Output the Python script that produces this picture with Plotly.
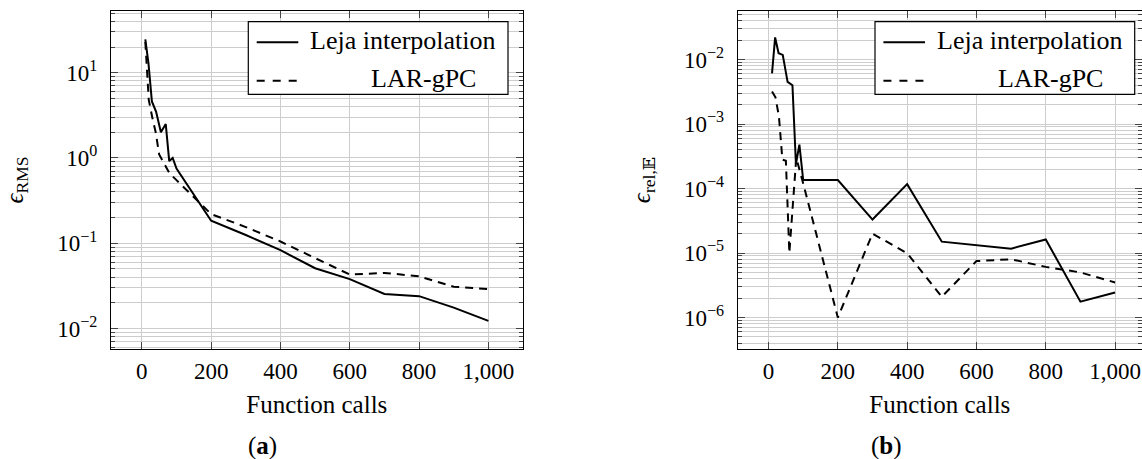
import plotly.graph_objects as go

# ---------------- data ----------------
leja_x = [10, 19, 29, 41, 55, 69, 79, 89, 100, 200, 300, 400, 500, 600, 700, 800, 900, 1000]
lar_x = [10, 20, 30, 40, 50, 60, 80, 100, 200, 300, 400, 500, 600, 700, 800, 900, 1000]

# (a) RMS error
leja_rms = [24.5, 13.0, 4.6, 3.5, 2.0, 2.5, 0.92, 1.0, 0.75, 0.184, 0.125, 0.083, 0.051, 0.038,
            0.0255, 0.024, 0.0176, 0.0123]
lar_rms = [23.0, 4.8, 3.0, 2.0, 1.1, 0.92, 0.66, 0.55, 0.22, 0.155, 0.105, 0.067, 0.043, 0.045,
           0.041, 0.031, 0.029]

# (b) relative error of the expectation
leja_rel = [6.1e-3, 2.2e-2, 1.25e-2, 1.18e-2, 4.5e-3, 4.0e-3, 2.4e-4, 4.8e-4, 1.35e-4, 1.35e-4,
            3.3e-5, 1.17e-4, 1.5e-5, 1.33e-5, 1.17e-5, 1.62e-5, 1.76e-6, 2.45e-6]
lar_rel = [3.2e-3, 2.6e-3, 1.3e-3, 2.8e-4, 2.7e-4, 1.0e-5, 3.0e-4, 1.2e-4, 1.0e-6, 2.0e-5,
           9.9e-6, 2.1e-6, 7.5e-6, 8.0e-6, 6.1e-6, 5.0e-6, 3.5e-6]

x_tickvals = [0, 200, 400, 600, 800, 1000]
x_ticktext = ["0", "200", "400", "600", "800", "1,000"]
a_yticks = [1e-2, 1e-1, 1e0, 1e1]
a_yticktext = ["10<sup>−2</sup>", "10<sup>−1</sup>", "10<sup>0</sup>", "10<sup>1</sup>"]
b_yticks = [1e-6, 1e-5, 1e-4, 1e-3, 1e-2]
b_yticktext = ["10<sup>−6</sup>", "10<sup>−5</sup>", "10<sup>−4</sup>", "10<sup>−3</sup>", "10<sup>−2</sup>"]

names = ["Leja interpolation", "LAR-gPC"]

# ---------------- layout helpers ----------------
W, H = 1142, 459
FONT = "Liberation Serif"
GRID = "#cdcdcd"


def px(x):
    return x / W


def py(y):
    return 1 - y / H


def minors(lo, hi):
    out = []
    for e in range(lo, hi + 1):
        for k in range(2, 10):
            out.append(k * 10 ** e)
    return out


fig = go.Figure()

line_styles = [dict(color="black", width=2), dict(color="black", width=2, dash="8px,6px")]

fig.add_trace(go.Scatter(x=leja_x, y=leja_rms, mode="lines", name=names[0], line=line_styles[0],
                         xaxis="x", yaxis="y", showlegend=False))
fig.add_trace(go.Scatter(x=lar_x, y=lar_rms, mode="lines", name=names[1], line=line_styles[1],
                         xaxis="x", yaxis="y", showlegend=False))
fig.add_trace(go.Scatter(x=leja_x, y=leja_rel, mode="lines", name=names[0], line=line_styles[0],
                         xaxis="x2", yaxis="y2", showlegend=False))
fig.add_trace(go.Scatter(x=lar_x, y=lar_rel, mode="lines", name=names[1], line=line_styles[1],
                         xaxis="x2", yaxis="y2", showlegend=False))

tickfont = dict(family=FONT, size=23, color="black")
titlefont = dict(family=FONT, size=25, color="black")

common_x = dict(
    tickvals=x_tickvals, ticktext=x_ticktext, tickfont=tickfont,
    showgrid=True, gridcolor=GRID, gridwidth=1, zeroline=False,
    showline=True, linecolor="black", linewidth=1.2, mirror="allticks",
    ticks="inside", ticklen=7, tickcolor="#444", tickwidth=1,
    ticklabelstandoff=1,
    title=dict(text="Function calls", font=titlefont, standoff=12),
)

common_y = dict(
    type="log", tickfont=tickfont,
    showgrid=True, gridcolor=GRID, gridwidth=1, zeroline=False,
    showline=True, linecolor="black", linewidth=1.2,
    ticks="inside", ticklen=7, tickcolor="#444", tickwidth=1,
    ticklabelstandoff=8,
)

dom_y = [py(349), py(11)]

fig.update_layout(
    width=W, height=H,
    margin=dict(l=0, r=0, t=0, b=0),
    paper_bgcolor="white", plot_bgcolor="white",
    font=dict(family=FONT, color="black"),
    xaxis=dict(domain=[px(111), px(522.7)], range=[-89, 1099], anchor="y", **common_x),
    yaxis=dict(domain=dom_y, range=[-2.239, 1.723], anchor="x", mirror="allticks",
               tickvals=a_yticks, ticktext=a_yticktext,
               minor=dict(tickvals=minors(-3, 1), showgrid=True, gridcolor=GRID, ticks="inside",
                          ticklen=4, tickcolor="#444"),
               title=dict(text="<i>ϵ</i><sub>RMS</sub>", font=titlefont, standoff=26),
               **common_y),
    xaxis2=dict(domain=[px(737.7), 1.0], range=[-89, -89 + (W - 737.7) / (411.7 / 1188)],
                anchor="y2", **common_x),
    yaxis2=dict(domain=dom_y, range=[-6.488, -1.248], anchor="x2", mirror="allticks",
                tickvals=b_yticks, ticktext=b_yticktext,
                minor=dict(tickvals=minors(-7, -2), showgrid=True, gridcolor=GRID, ticks="inside",
                           ticklen=4, tickcolor="#444"),
                title=dict(text="<i>ϵ</i><sub>rel,<span style=\"font-family:DejaVu Serif\">𝔼</span></sub>",
                           font=titlefont, standoff=26),
                **common_y),
)

# ---------------- legends (drawn as boxes) and captions ----------------
shapes = []
annotations = []
for off in (0, 626.7):
    shapes.append(dict(type="rect", xref="paper", yref="paper",
                       x0=px(248.3 + off), x1=px(508 + off), y0=py(94.3), y1=py(21.7),
                       line=dict(color="black", width=1.2), fillcolor="white", layer="above"))
    shapes.append(dict(type="line", xref="paper", yref="paper",
                       x0=px(256.7 + off), x1=px(298.3 + off), y0=py(42.3), y1=py(42.3),
                       line=dict(color="black", width=2), layer="above"))
    shapes.append(dict(type="line", xref="paper", yref="paper",
                       x0=px(256.7 + off), x1=px(298.3 + off), y0=py(80.7), y1=py(80.7),
                       line=dict(color="black", width=2, dash="8px,8px"), layer="above"))
    annotations.append(dict(text=names[0], xref="paper", yref="paper", x=px(403 + off), y=py(41),
                            xanchor="center", yanchor="middle", showarrow=False,
                            font=dict(family=FONT, size=26, color="black")))
    annotations.append(dict(text=names[1], xref="paper", yref="paper", x=px(424 + off), y=py(79),
                            xanchor="center", yanchor="middle", showarrow=False,
                            font=dict(family=FONT, size=26, color="black")))

annotations.append(dict(text="(<b>a</b>)", xref="paper", yref="paper", x=px(262), y=py(446),
                        xanchor="center", yanchor="middle", showarrow=False, font=titlefont))
annotations.append(dict(text="(<b>b</b>)", xref="paper", yref="paper", x=px(886.5), y=py(446),
                        xanchor="center", yanchor="middle", showarrow=False, font=titlefont))

fig.update_layout(shapes=shapes, annotations=annotations)

fig.write_html("out.html", config={"displayModeBar": False},
               post_script="document.body.style.margin='0';")
